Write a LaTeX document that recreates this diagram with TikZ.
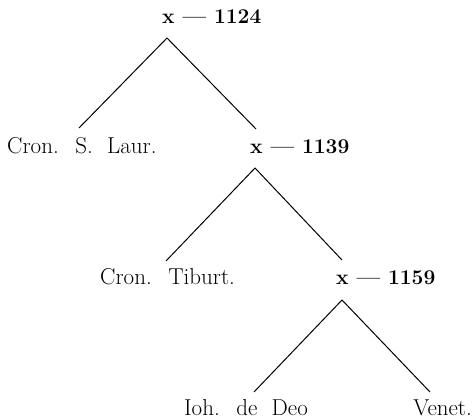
\documentclass[tikz,border=0pt]{standalone}
% wider inter-word spacing for the source names
\newcommand{\widewords}{\spaceskip 0.62em plus 0.1em\relax}
\begin{document}
\begin{tikzpicture}[x=1pt,y=-1pt,
  year/.style={anchor=base west,inner sep=0pt,font=\fontsize{21}{25}\selectfont\bfseries},
  src/.style={anchor=base west,inner sep=0pt,
    font=\fontsize{23}{27}\selectfont\widewords},
  branch/.style={line width=1pt}]
\useasboundingbox (0,0) rectangle (473,419);
% labels
\node[year] (t1) at (162,24) {x --- 1124};
\node[src]  (laur) at (7,154) {Cron. S. Laur.};
\node[year] (t2) at (250,154) {x --- 1139};
\node[src]  (tib) at (100,284) {Cron. Tiburt.};
\node[year] (t3) at (336,284) {x --- 1159};
\node[src]  (ioh) at (184,415) {Ioh. de Deo};
\node[src,anchor=base east] (ven) at (472,415) {Venet.};
% branch points and branch ends
\coordinate (p1) at (167,38);
\coordinate (p1l) at (79,128);
\coordinate (p1r) at (256,129);
\coordinate (p2) at (255,168);
\coordinate (p2l) at (166,261);
\coordinate (p2r) at (342,260);
\coordinate (p3) at (342,300);
\coordinate (p3l) at (254,392);
\coordinate (p3r) at (430,392);
\draw[branch] (p1l) -- (p1) -- (p1r);
\draw[branch] (p2l) -- (p2) -- (p2r);
\draw[branch] (p3l) -- (p3) -- (p3r);
\end{tikzpicture}
\end{document}
